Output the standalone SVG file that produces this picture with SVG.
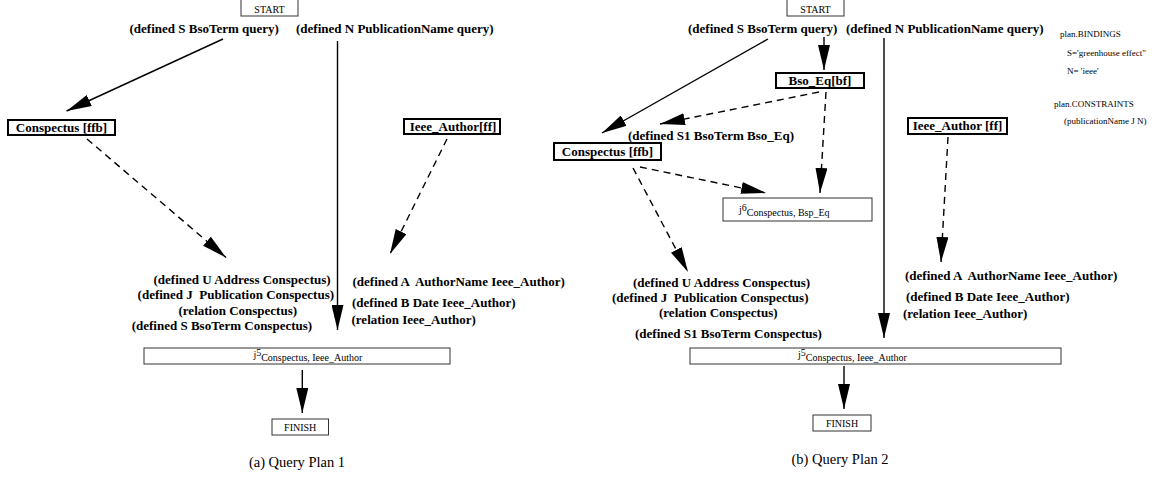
<svg xmlns="http://www.w3.org/2000/svg" width="1162" height="478" viewBox="0 0 1162 478">
<style>
.lbl{font-family:"Liberation Serif","Times New Roman",serif;font-weight:bold;font-size:13px;fill:#000}
.sm{font-family:"Liberation Serif","Times New Roman",serif;font-size:10px;fill:#000}
.bind{font-family:"Liberation Serif","Times New Roman",serif;font-size:9px;fill:#000}
.cap{font-family:"Liberation Serif","Times New Roman",serif;font-size:14.5px;fill:#000}
.box{fill:#fff;stroke:#000;stroke-width:2}
.tbox{fill:#fff;stroke:#333;stroke-width:1}
.e{fill:none;stroke:#000;stroke-width:1.4}
.d{stroke-dasharray:7,5}
.mid{text-anchor:middle}
</style>
<defs>
<marker id="ah" markerUnits="userSpaceOnUse" markerWidth="26" markerHeight="12" refX="25" refY="6" orient="auto">
<path d="M0,0 L25,6 L0,12 z" fill="#000" stroke="none"/>
</marker>
</defs>
<rect width="1162" height="478" fill="#fff"/>

<g id="connectors">
<path class="e" d="M223,39 L66.6,111" marker-end="url(#ah)"/>
<path class="e" d="M337.5,41 L337.5,330" marker-end="url(#ah)"/>
<path class="e d" d="M87,139 L226,257.5" marker-end="url(#ah)"/>
<path class="e d" d="M447,139 L390,254" marker-end="url(#ah)"/>
<path class="e" d="M302.3,370 L302.3,413" marker-end="url(#ah)"/>
<path class="e" d="M768,39 L602,133" marker-end="url(#ah)"/>
<path class="e" d="M824,37 L824,70" marker-end="url(#ah)"/>
<path class="e" d="M884,38 L884,338" marker-end="url(#ah)"/>
<path class="e d" d="M819,92 L660,124" marker-end="url(#ah)"/>
<path class="e d" d="M826,92 L820,193" marker-end="url(#ah)"/>
<path class="e d" d="M640,167 L766,193" marker-end="url(#ah)"/>
<path class="e d" d="M633,168 L688,272" marker-end="url(#ah)"/>
<path class="e d" d="M948,137 L941,262" marker-end="url(#ah)"/>
<path class="e" d="M844,366 L844,409" marker-end="url(#ah)"/>
</g>

<!-- Plan 1 -->
<g id="a-start"><rect class="tbox" x="241" y="-1" width="57" height="17"/><text class="sm mid" x="269.5" y="12.5">START</text></g>
<g id="a-query">
<text class="lbl" x="129.5" y="33">(defined S BsoTerm query)</text>
<text class="lbl" x="296" y="33">(defined N PublicationName query)</text>
</g>
<g id="a-conspectus"><rect class="box" x="8" y="120" width="107" height="15"/><text class="lbl mid" x="61.5" y="132">Conspectus [ffb]</text></g>
<g id="a-ieee"><rect class="box" x="404" y="119" width="96" height="15"/><text class="lbl mid" x="453" y="131">Ieee_Author[ff]</text></g>
<g id="a-conspectus-attrs">
<text class="lbl" x="153.5" y="284">(defined U Address Conspectus)</text>
<text class="lbl" x="137.6" y="299" xml:space="preserve">(defined J  Publication Conspectus)</text>
<text class="lbl" x="178.5" y="315">(relation Conspectus)</text>
<text class="lbl" x="131.7" y="330">(defined S BsoTerm Conspectus)</text>
</g>
<g id="a-ieee-attrs">
<text class="lbl" x="352.5" y="286" xml:space="preserve">(defined A  AuthorName Ieee_Author)</text>
<text class="lbl" x="352" y="307">(defined B Date Ieee_Author)</text>
<text class="lbl" x="351.5" y="324">(relation Ieee_Author)</text>
</g>
<g id="a-j5"><rect class="tbox" x="144" y="348" width="306" height="16"/>
<text class="sm" x="253.4" y="358" font-size="11">j<tspan dy="-2">5</tspan><tspan dy="5" font-size="10">Conspectus, Ieee_Author</tspan></text></g>
<g id="a-finish"><rect class="tbox" x="272" y="419" width="56.5" height="16"/><text class="sm mid" x="300.2" y="431">FINISH</text></g>
<text id="caption-a" class="cap mid" x="297" y="467">(a) Query Plan 1</text>

<!-- Plan 2 -->
<g id="b-start"><rect class="tbox" x="787" y="-1" width="57" height="17"/><text class="sm mid" x="815.5" y="12.5">START</text></g>
<g id="b-query">
<text class="lbl" x="688" y="33">(defined S BsoTerm query)</text>
<text class="lbl" x="846" y="33">(defined N PublicationName query)</text>
</g>
<g id="b-bsoeq"><rect class="box" x="776" y="73" width="88" height="15"/><text class="lbl mid" x="820" y="85">Bso_Eq[bf]</text></g>
<g id="b-s1"><text class="lbl" x="628" y="140">(defined S1 BsoTerm Bso_Eq)</text></g>
<g id="b-conspectus"><rect class="box" x="554" y="143" width="107" height="17"/><text class="lbl mid" x="607.5" y="156">Conspectus [ffb]</text></g>
<g id="b-j6"><rect class="tbox" x="723" y="198" width="149" height="23"/>
<text class="sm" x="739" y="213" font-size="11">j<tspan dy="-2">6</tspan><tspan dy="5" font-size="10">Conspectus, Bsp_Eq</tspan></text></g>
<g id="b-ieee"><rect class="box" x="908" y="118" width="99" height="16"/><text class="lbl mid" x="957.5" y="130">Ieee_Author [ff]</text></g>
<g id="b-conspectus-attrs">
<text class="lbl" x="633" y="287">(defined U Address Conspectus)</text>
<text class="lbl" x="612" y="302" xml:space="preserve">(defined J  Publication Conspectus)</text>
<text class="lbl" x="659" y="317">(relation Conspectus)</text>
<text class="lbl" x="635" y="338">(defined S1 BsoTerm Conspectus)</text>
</g>
<g id="b-ieee-attrs">
<text class="lbl" x="905" y="280" xml:space="preserve">(defined A  AuthorName Ieee_Author)</text>
<text class="lbl" x="906" y="301">(defined B Date Ieee_Author)</text>
<text class="lbl" x="903" y="318">(relation Ieee_Author)</text>
</g>
<g id="b-j5"><rect class="tbox" x="690" y="348" width="371" height="16"/>
<text class="sm" x="798" y="358" font-size="11">j<tspan dy="-2">5</tspan><tspan dy="5" font-size="10">Conspectus, Ieee_Author</tspan></text></g>
<g id="b-finish"><rect class="tbox" x="813" y="415" width="58" height="16"/><text class="sm mid" x="842" y="427">FINISH</text></g>
<text id="caption-b" class="cap mid" x="840" y="464">(b) Query Plan 2</text>

<g id="b-bindings">
<text class="bind" x="1060" y="37">plan.BINDINGS</text>
<text class="bind" x="1067" y="56">S='greenhouse effect"</text>
<text class="bind" x="1067" y="74">N= 'ieee'</text>
<text class="bind" x="1054" y="107">plan.CONSTRAINTS</text>
<text class="bind" x="1064" y="124">(publicationName J N)</text>
</g>
</svg>
